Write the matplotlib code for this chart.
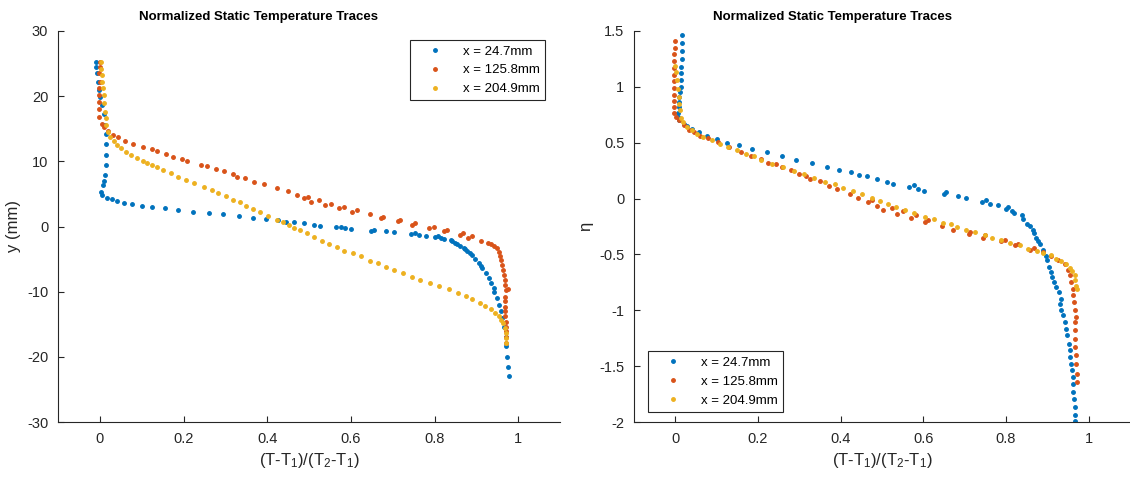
import matplotlib
matplotlib.use('Agg')
import matplotlib.pyplot as plt
from matplotlib.ticker import FuncFormatter

plt.rcParams['font.family'] = ['Liberation Sans', 'DejaVu Sans']
plt.rcParams['mathtext.default'] = 'regular'

labels = ['x = 24.7mm', 'x = 125.8mm', 'x = 204.9mm']
colors = ['#0072BD', '#D95319', '#EDB120']

# left panel: y (mm)
l_x1 = [-0.009, -0.008, -0.007, -0.005, -0.002, 0.001, 0.005, 0.009, 0.013, 0.014, 0.015, 0.015, 0.014, 0.013,
        0.010, 0.007, 0.003, 0.006, 0.018, 0.03, 0.042, 0.058, 0.077, 0.1, 0.125, 0.156, 0.187, 0.222, 0.26,
        0.294, 0.332, 0.367, 0.397, 0.427, 0.445, 0.463, 0.489, 0.511, 0.527, 0.565, 0.577, 0.587, 0.6, 0.649,
        0.655, 0.684, 0.703, 0.743, 0.753, 0.764, 0.78, 0.802, 0.808, 0.816, 0.822, 0.84, 0.842, 0.848, 0.854,
        0.862, 0.87, 0.874, 0.878, 0.884, 0.89, 0.898, 0.906, 0.91, 0.914, 0.922, 0.93, 0.936, 0.942, 0.942,
        0.949, 0.954, 0.958, 0.962, 0.966, 0.97, 0.972, 0.974, 0.976, 0.977]
l_y1 = [25.2, 24.4, 23.6, 22.2, 21.0, 19.8, 18.6, 17.2, 15.6, 14.2, 12.6, 11.0, 9.5, 7.9,
        7.0, 6.4, 5.3, 4.8, 4.4, 4.2, 3.9, 3.65, 3.4, 3.2, 3.0, 2.84, 2.6, 2.3, 2.07,
        1.87, 1.66, 1.35, 1.15, 0.95, 0.74, 0.64, 0.49, 0.28, 0.12, -0.13, -0.03, -0.28, -0.38, -0.64,
        -0.49, -0.74, -0.9, -1.1, -1.0, -1.26, -1.4, -1.66, -1.5, -1.8, -1.9, -2.07, -2.3, -2.5, -2.7,
        -3.0, -3.35, -3.5, -3.76, -4.0, -4.37, -5.0, -5.6, -6.0, -6.4, -7.2, -7.95, -8.7, -9.5, -10.0,
        -11.0, -12.0, -13.0, -14.1, -15.4, -16.9, -18.4, -20.0, -21.5, -23.0]

l_x2 = [0.0, 0.0, -0.001, 0.0, -0.001, -0.002, -0.002, -0.002, -0.002, 0.005, 0.011, 0.019, 0.031, 0.043,
        0.059, 0.079, 0.104, 0.124, 0.137, 0.158, 0.174, 0.196, 0.208, 0.243, 0.257, 0.278, 0.297, 0.319,
        0.329, 0.347, 0.369, 0.393, 0.423, 0.449, 0.471, 0.489, 0.497, 0.505, 0.525, 0.539, 0.553, 0.572,
        0.584, 0.603, 0.615, 0.647, 0.672, 0.678, 0.712, 0.717, 0.746, 0.753, 0.787, 0.798, 0.822, 0.83,
        0.86, 0.868, 0.879, 0.89, 0.91, 0.928, 0.936, 0.942, 0.949, 0.953, 0.956, 0.96, 0.962, 0.964, 0.966,
        0.968, 0.969, 0.97, 0.975, 0.968, 0.968, 0.968, 0.969, 0.969, 0.97, 0.97, 0.971, 0.972, 0.972]
l_y2 = [25.2, 24.5, 23.5, 22.2, 21.2, 20.2, 19.1, 18.0, 16.8, 15.8, 15.3, 14.6, 14.1, 13.8,
        13.1, 12.6, 12.2, 11.9, 11.6, 11.1, 10.7, 10.35, 10.05, 9.5, 9.3, 8.8, 8.5, 8.0,
        7.6, 7.5, 6.9, 6.5, 5.95, 5.45, 4.9, 4.3, 4.6, 3.76, 4.0, 3.3, 3.5, 2.8,
        3.04, 2.27, 2.5, 1.87, 1.26, 1.5, 0.8, 1.04, 0.28, 0.54, -0.28, -0.03, -0.74, -0.49,
        -1.26, -1.0, -1.76, -1.5, -2.17, -2.48, -2.7, -3.0, -3.35, -3.86, -4.5, -5.1, -5.9, -6.7, -7.4,
        -8.2, -9.0, -9.7, -9.6, -10.8, -11.5, -12.3, -13.0, -13.8, -14.6, -15.4, -16.1, -16.9, -17.9]

l_x3 = [0.002, 0.003, 0.004, 0.005, 0.007, 0.01, 0.011, 0.013, 0.014, 0.015, 0.019, 0.025, 0.033, 0.041,
        0.051, 0.063, 0.075, 0.089, 0.103, 0.113, 0.125, 0.136, 0.152, 0.169, 0.188, 0.206, 0.224, 0.249,
        0.268, 0.283, 0.302, 0.319, 0.335, 0.35, 0.367, 0.383, 0.403, 0.423, 0.438, 0.451, 0.465, 0.479,
        0.495, 0.511, 0.531, 0.547, 0.566, 0.584, 0.604, 0.624, 0.647, 0.664, 0.683, 0.704, 0.725, 0.746,
        0.765, 0.789, 0.81, 0.834, 0.856, 0.875, 0.89, 0.909, 0.921, 0.934, 0.944, 0.953, 0.958, 0.964,
        0.968, 0.971, 0.972, 0.972]
l_y3 = [25.2, 24.2, 23.2, 22.2, 21.2, 20.2, 19.0, 17.6, 16.6, 15.6, 14.5, 13.8, 13.1, 12.5,
        12.0, 11.5, 11.0, 10.55, 10.05, 9.8, 9.5, 9.1, 8.7, 8.2, 7.6, 7.2, 6.6, 6.05,
        5.65, 5.1, 4.7, 4.1, 3.7, 3.2, 2.7, 2.17, 1.66, 1.04, 0.64, 0.23, -0.18, -0.58,
        -1.04, -1.66, -2.17, -2.7, -3.2, -3.7, -4.1, -4.6, -5.25, -5.65, -6.26, -6.7, -7.2, -7.7,
        -8.2, -8.7, -9.2, -9.65, -10.15, -10.66, -11.2, -11.7, -12.2, -12.7, -13.2, -13.7, -14.3, -14.85,
        -15.6, -16.4, -17.1, -17.9]

# right panel: eta
r_x1 = [0.017, 0.015, 0.015, 0.015, 0.014, 0.014, 0.014, 0.013, 0.012, 0.01, 0.008, 0.008, 0.006, 0.006,
        0.010, 0.020, 0.028, 0.041, 0.057, 0.076, 0.1, 0.125, 0.154, 0.186, 0.222, 0.259, 0.293, 0.331,
        0.367, 0.395, 0.426, 0.445, 0.463, 0.487, 0.511, 0.527, 0.565, 0.578, 0.587, 0.601, 0.651, 0.655,
        0.683, 0.703, 0.741, 0.752, 0.762, 0.78, 0.801, 0.806, 0.814, 0.82, 0.838, 0.842, 0.85, 0.857,
        0.865, 0.868, 0.873, 0.877, 0.882, 0.889, 0.897, 0.9, 0.903, 0.91, 0.912, 0.917, 0.92, 0.929,
        0.932, 0.93, 0.934, 0.938, 0.942, 0.945, 0.948, 0.952, 0.954, 0.956, 0.958, 0.96, 0.961, 0.961,
        0.962, 0.964, 0.966, 0.967, 0.968]
r_y1 = [1.46, 1.39, 1.32, 1.25, 1.18, 1.12, 1.06, 1.0, 0.95, 0.91, 0.86, 0.82, 0.77, 0.73,
        0.70, 0.665, 0.647, 0.627, 0.596, 0.564, 0.53, 0.5, 0.477, 0.447, 0.414, 0.385, 0.349, 0.319,
        0.283, 0.26, 0.238, 0.215, 0.2, 0.173, 0.149, 0.134, 0.104, 0.119, 0.09, 0.068, 0.045, 0.056,
        0.023, 0.005, -0.027, -0.009, -0.045, -0.057, -0.09, -0.072, -0.111, -0.125, -0.15, -0.179, -0.224, -0.248,
        -0.278, -0.308, -0.349, -0.38, -0.403, -0.463, -0.517, -0.552, -0.612, -0.657, -0.702, -0.747, -0.791, -0.836,
        -0.895, -0.94, -1.0, -1.045, -1.105, -1.164, -1.224, -1.3, -1.358, -1.418, -1.477, -1.537, -1.597, -1.656,
        -1.731, -1.79, -1.866, -1.94, -1.99]

r_x2 = [-0.002, -0.002, -0.003, -0.003, -0.003, -0.003, -0.004, -0.004, -0.004, -0.004, -0.004, -0.003, 0.002,
        0.01, 0.02, 0.034, 0.044, 0.06, 0.08, 0.104, 0.13, 0.16, 0.184, 0.208, 0.224, 0.244, 0.258, 0.28,
        0.299, 0.317, 0.327, 0.349, 0.371, 0.391, 0.423, 0.443, 0.467, 0.475, 0.487, 0.503, 0.525, 0.537,
        0.551, 0.571, 0.583, 0.603, 0.612, 0.645, 0.671, 0.711, 0.714, 0.745, 0.75, 0.788, 0.798, 0.822,
        0.83, 0.858, 0.868, 0.89, 0.908, 0.926, 0.942, 0.95, 0.954, 0.958, 0.961, 0.962, 0.965, 0.966,
        0.97, 0.966, 0.967, 0.968, 0.968, 0.969, 0.97, 0.972, 0.971]
r_y2 = [1.41, 1.35, 1.29, 1.23, 1.17, 1.11, 1.05, 0.99, 0.93, 0.87, 0.82, 0.77, 0.73,
        0.707, 0.662, 0.618, 0.596, 0.558, 0.54, 0.505, 0.465, 0.415, 0.379, 0.352, 0.322, 0.307, 0.283, 0.253,
        0.218, 0.202, 0.179, 0.158, 0.113, 0.09, 0.045, 0.009, -0.03, -0.015, -0.069, -0.098, -0.081, -0.141,
        -0.111, -0.17, -0.15, -0.209, -0.188, -0.242, -0.278, -0.313, -0.299, -0.349, -0.329, -0.38, -0.367, -0.418,
        -0.403, -0.457, -0.439, -0.478, -0.517, -0.552, -0.588, -0.636, -0.687, -0.747, -0.806, -0.866, -0.925, -1.0,
        -1.06, -1.105, -1.18, -1.253, -1.328, -1.403, -1.477, -1.567, -1.642]

r_x3 = [0.0, 0.002, 0.004, 0.006, 0.008, 0.01, 0.012, 0.014, 0.018, 0.028, 0.04, 0.052, 0.068, 0.088,
        0.108, 0.128, 0.149, 0.17, 0.19, 0.208, 0.234, 0.261, 0.287, 0.311, 0.335, 0.363, 0.387, 0.405,
        0.429, 0.451, 0.475, 0.495, 0.515, 0.535, 0.555, 0.578, 0.603, 0.627, 0.647, 0.667, 0.681, 0.703,
        0.726, 0.748, 0.765, 0.788, 0.81, 0.833, 0.854, 0.874, 0.89, 0.908, 0.92, 0.932, 0.944, 0.954,
        0.96, 0.966, 0.968, 0.97, 0.971]
r_y3 = [1.19, 1.13, 1.06, 0.98, 0.91, 0.85, 0.79, 0.725, 0.686, 0.641, 0.611, 0.582, 0.551, 0.52,
        0.49, 0.462, 0.432, 0.403, 0.379, 0.349, 0.313, 0.283, 0.247, 0.224, 0.188, 0.149, 0.128, 0.098,
        0.068, 0.038, 0.003, -0.024, -0.051, -0.075, -0.098, -0.129, -0.165, -0.185, -0.218, -0.23, -0.254, -0.284,
        -0.299, -0.329, -0.349, -0.373, -0.397, -0.418, -0.448, -0.469, -0.487, -0.508, -0.54, -0.558, -0.588, -0.618,
        -0.648, -0.687, -0.731, -0.785, -0.806]

xticks = [0, 0.2, 0.4, 0.6, 0.8, 1]
l_yticks = [-30, -20, -10, 0, 10, 20, 30]
r_yticks = [-2, -1.5, -1, -0.5, 0, 0.5, 1, 1.5]

axis_col = '#262626'


def style_axes(ax):
    for s in ['top', 'right']:
        ax.spines[s].set_visible(False)
    for s in ['left', 'bottom']:
        ax.spines[s].set_color(axis_col)
        ax.spines[s].set_linewidth(0.8)
    ax.tick_params(direction='in', length=4, width=0.8, colors=axis_col, labelsize=10.5, pad=7)
    ax.xaxis.set_major_formatter(FuncFormatter(lambda v, p: '%g' % v))
    ax.yaxis.set_major_formatter(FuncFormatter(lambda v, p: '%g' % v))
    ax.set_xlim(-0.1, 1.1)
    ax.set_xticks(xticks)
    ax.set_xlabel('(T-T$_1$)/(T$_2$-T$_1$)', fontsize=12, color=axis_col)
    ax.set_title('Normalized Static Temperature Traces', fontsize=9.5, fontweight='bold',
                 color='black', x=0.4, pad=8)


fig = plt.figure(figsize=(11.3, 4.78), dpi=100)
ax1 = fig.add_axes([58 / 1130, 56 / 478, 502 / 1130, 391 / 478])
ax2 = fig.add_axes([634 / 1130, 56 / 478, 496 / 1130, 391 / 478])

for xs, ys, c, lab in zip([l_x1, l_x2, l_x3], [l_y1, l_y2, l_y3], colors, labels):
    ax1.plot(xs, ys, linestyle='none', marker='.', markersize=5, color=c, label=lab)
for xs, ys, c, lab in zip([r_x1, r_x2, r_x3], [r_y1, r_y2, r_y3], colors, labels):
    ax2.plot(xs, ys, linestyle='none', marker='.', markersize=5, color=c, label=lab)

style_axes(ax1)
ax1.set_ylim(-30, 30)
ax1.set_yticks(l_yticks)
ax1.set_ylabel('y (mm)', fontsize=12, color=axis_col)

style_axes(ax2)
ax2.set_ylim(-2, 1.5)
ax2.set_yticks(r_yticks)
ax2.set_ylabel('η', fontsize=12, color=axis_col)

for ax, loc, anchor in [(ax1, 'upper right', (0.97, 0.977)), (ax2, 'lower left', (0.028, 0.026))]:
    leg = ax.legend(loc=loc, bbox_to_anchor=anchor, fontsize=9.5, fancybox=False, framealpha=1,
                    edgecolor=axis_col, handlelength=3.0, handletextpad=0.6, borderpad=0.4,
                    labelspacing=0.5, borderaxespad=0)
    leg.get_frame().set_linewidth(0.8)

plt.savefig('out.png', dpi=100)
